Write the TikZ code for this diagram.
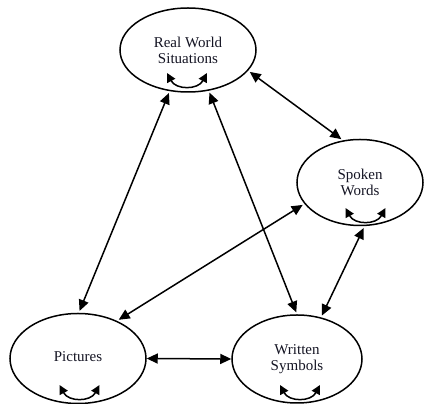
\documentclass[tikz,border=0pt]{standalone}
\usepackage{fontspec}
\setmainfont{Liberation Serif}
\usetikzlibrary{arrows.meta,calc,shapes.geometric}
\definecolor{inkcol}{RGB}{20,20,35}
\tikzset{
  mode/.style={ellipse, draw, line width=1.5pt, inner sep=0pt,
    align=center, text=inkcol, font=\fontsize{15}{16}\selectfont},
  link/.style={line width=1.5pt, {Triangle[length=11pt,width=10pt]}-{Triangle[length=11pt,width=10pt]},
    shorten <=2pt, shorten >=2pt},
  swaparrow/.pic={
    \draw[line width=1.5pt, {Triangle[length=9pt,width=9pt]}-{Triangle[length=9pt,width=9pt]}]
      (-20,0) .. controls (-11,-17) and (11,-17) .. (20,0);
  }
}
\begin{document}
\begin{tikzpicture}[x=1pt,y=1pt]
\useasboundingbox (0,0) rectangle (424,404);
% the four modes of representation
\node[mode, minimum width=136pt, minimum height=84pt] (rw) at (188,354) {Real World\\Situations};
\node[mode, minimum width=126pt, minimum height=86pt] (sw) at (360,221.5) {Spoken\\Words};
\node[mode, minimum width=136pt, minimum height=90pt] (pi) at (78,45.5) {\raisebox{3pt}{Pictures}};
\node[mode, minimum width=130pt, minimum height=88pt] (ws) at (297,45) {Written\\Symbols};
% translations within each mode
\pic at ($(rw)+(-1,-23)$) {swaparrow};
\pic at ($(sw)+(5.5,-25.5)$) {swaparrow};
\pic at ($(pi)+(1.5,-26.5)$) {swaparrow};
\pic at ($(ws)+(3,-26)$) {swaparrow};
% translations between modes
\draw[link] (rw.-19) -- (sw.112);
\draw[link] (rw.-114) -- (pi.89);
\draw[link] (rw.-63) -- (ws.90);
\draw[link] (sw.201) -- (pi.44);
\draw[link] (sw.-84) -- (ws.60);
\draw[link, shorten <=0pt, shorten >=0pt] (pi.0) -- (ws.180);
\end{tikzpicture}
\end{document}
